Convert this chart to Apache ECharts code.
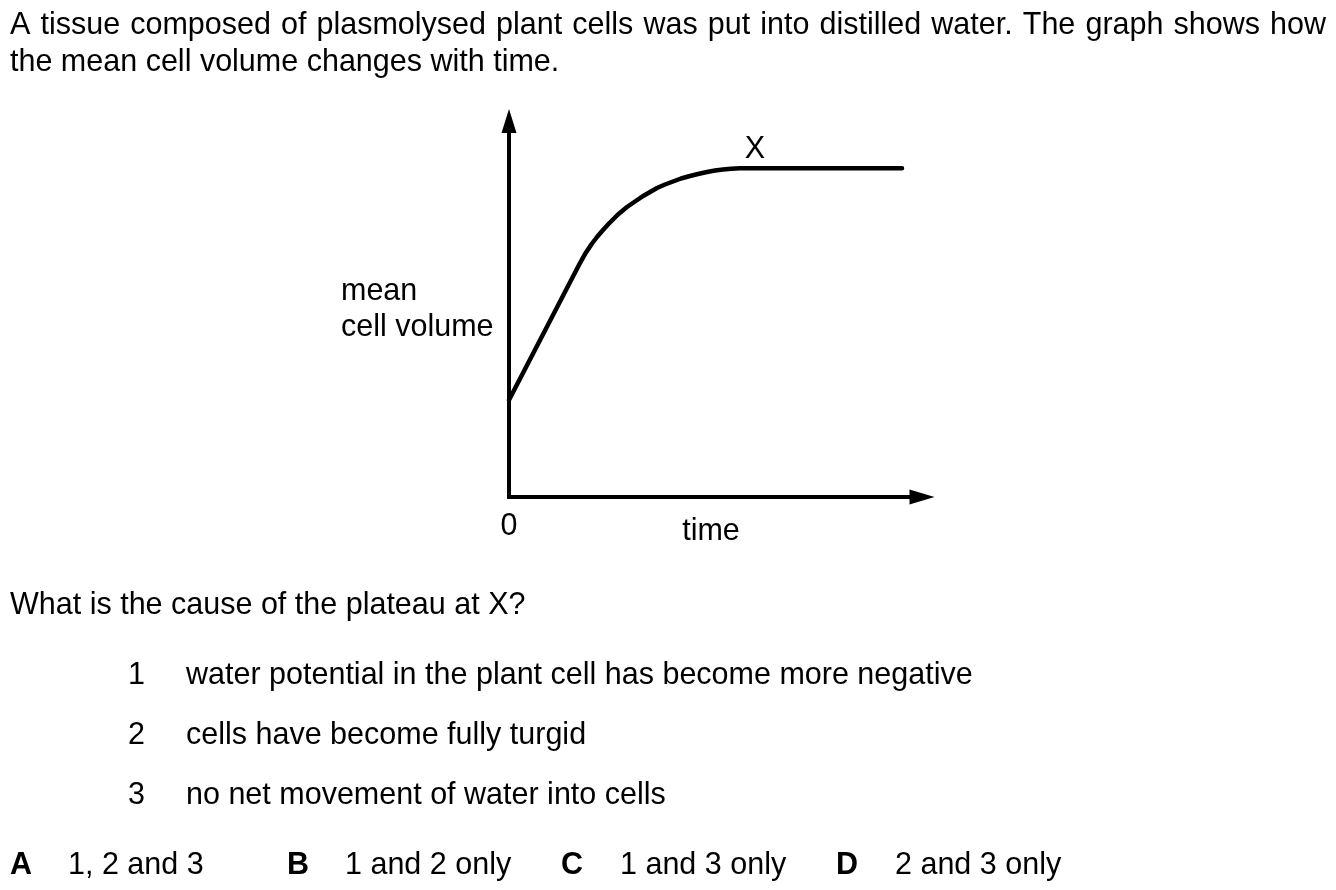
<!DOCTYPE html>
<html>
<head>
<meta charset="utf-8">
<script src="https://cdn.jsdelivr.net/npm/echarts@6/dist/echarts.min.js"></script>
<style>
html,body{margin:0;padding:0;background:#fff;}
#c{width:1336px;height:890px;}
</style>
</head>
<body>
<div id="c"></div>
<script>
// Data (arbitrary units: time 0-100, mean cell volume 0-100)
var timeValues   = [0, 17.19, 18.64, 20.10, 21.31, 22.76, 24.21, 26.39, 28.57, 30.51, 32.69, 35.84, 37.77, 39.71, 41.65, 43.83, 45.76, 47.94, 49.88, 51.82, 53.75, 55.93, 95.16];
var volumeValues = [25.8, 62.23, 65.03, 67.42, 69.15, 71.01, 72.74, 75.13, 77.13, 78.59, 80.19, 82.18, 83.11, 83.91, 84.71, 85.37, 85.90, 86.44, 86.84, 87.10, 87.31, 87.42, 87.42];
var xTickLabels  = ['0'];

var FONT = '"Liberation Sans", Arial, Helvetica, sans-serif';
var FS = 30.5;
var DY = 3;

var points = timeValues.map(function (t, i) { return [t, volumeValues[i]]; });

function txt(x, y, s, opts) {
  opts = opts || {};
  return {
    type: 'text', x: x, y: y + DY, silent: true,
    style: {
      text: s, fill: '#000', font: (opts.bold ? 'bold ' : '') + FS + 'px ' + FONT,
      textAlign: opts.align || 'left', textVerticalAlign: 'middle'
    }
  };
}

// justified first line (text spans x = 10 .. 1326 in the original)
function justified(line, x0, x1, y) {
  var words = line.split(' ');
  var cv = document.createElement('canvas').getContext('2d');
  cv.font = FS + 'px ' + FONT;
  var w = words.map(function (s) { return cv.measureText(s).width; });
  var total = w.reduce(function (a, b) { return a + b; }, 0);
  var gap = (x1 - x0 - total) / (words.length - 1);
  var out = [], x = x0;
  words.forEach(function (s, i) { out.push(txt(x, y, s)); x += w[i] + gap; });
  return out;
}

var graphics = justified('A tissue composed of plasmolysed plant cells was put into distilled water. The graph shows how', 10, 1326, 23).concat([
  txt(10, 60, 'the mean cell volume changes with time.'),
  txt(341, 289, 'mean'),
  txt(341, 325, 'cell volume'),
  txt(755, 147, 'X', {align: 'center'}),
  txt(711, 529, 'time', {align: 'center'}),
  txt(10, 603, 'What is the cause of the plateau at X?'),
  txt(128, 673, '1'),
  txt(186, 673, 'water potential in the plant cell has become more negative'),
  txt(128, 733, '2'),
  txt(186, 733, 'cells have become fully turgid'),
  txt(128, 793, '3'),
  txt(186, 793, 'no net movement of water into cells'),
  txt(10, 863, 'A', {bold: true}),
  txt(68, 863, '1, 2 and 3'),
  txt(287, 863, 'B', {bold: true}),
  txt(345, 863, '1 and 2 only'),
  txt(561, 863, 'C', {bold: true}),
  txt(620, 863, '1 and 3 only'),
  txt(836, 863, 'D', {bold: true}),
  txt(895, 863, '2 and 3 only')
]);

var chart = echarts.init(document.getElementById('c'), null, {renderer: 'canvas'});
chart.setOption({
  backgroundColor: '#fff',
  animation: false,
  grid: {left: 509, right: 414, top: 121, bottom: 393, containLabel: false},
  xAxis: {
    type: 'value', min: 0, max: 100,
    splitLine: {show: false}, axisTick: {show: false},
    axisLine: {show: true, lineStyle: {color: '#000', width: 4, cap: 'square'},
               symbol: ['none', 'triangle'], symbolSize: [15, 25]},
    axisLabel: {
      show: true, margin: 14, color: '#000', fontSize: FS, fontFamily: FONT,
      formatter: function (v) { return v === 0 ? xTickLabels[0] : ''; },
      showMinLabel: true, showMaxLabel: false
    }
  },
  yAxis: {
    type: 'value', min: 0, max: 100,
    splitLine: {show: false}, axisTick: {show: false}, axisLabel: {show: false},
    axisLine: {show: true, lineStyle: {color: '#000', width: 4, cap: 'square'},
               symbol: ['none', 'triangle'], symbolSize: [15, 24]}
  },
  series: [{
    type: 'line', data: points, smooth: false,
    showSymbol: false, symbol: 'none',
    lineStyle: {color: '#000', width: 4.5, join: 'round', cap: 'round'}
  }],
  graphic: graphics
});
</script>
</body>
</html>
